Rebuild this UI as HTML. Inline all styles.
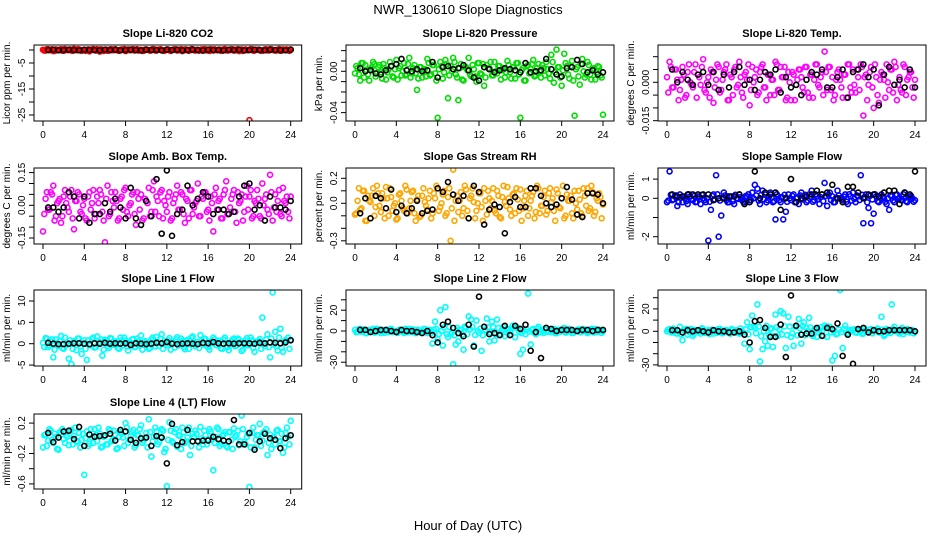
<!DOCTYPE html>
<html><head><meta charset="utf-8"><style>
html,body{margin:0;padding:0;background:#fff;}
svg{display:block;font-family:"Liberation Sans",Arial,sans-serif;}
</style></head><body>
<svg id="chart" width="936" height="540" viewBox="0 0 936 540" xmlns="http://www.w3.org/2000/svg">
<rect width="936" height="540" fill="#fff"/>
<text x="468" y="14" text-anchor="middle" font-size="13">NWR_130610  Slope Diagnostics</text>
<text x="468" y="530" text-anchor="middle" font-size="13">Hour of Day (UTC)</text>
</svg>
<script>
const hoursC=[0,0.25,0.5,0.75,1,1.25,1.5,1.75,2,2.25,2.5,2.75,3,3.25,3.5,3.75,4,4.25,4.5,4.75,5,5.25,5.5,5.75,
6,6.25,6.5,6.75,7,7.25,7.5,7.75,8,8.25,8.5,8.75,9,9.25,9.5,9.75,10,10.25,10.5,10.75,11,11.25,11.5,11.75,
12,12.25,12.5,12.75,13,13.25,13.5,13.75,14,14.25,14.5,14.75,15,15.25,15.5,15.75,16,16.25,16.5,16.75,17,17.25,17.5,17.75,
18,18.25,18.5,18.75,19,19.25,19.5,19.75,20,20.25,20.5,20.75,21,21.25,21.5,21.75,22,22.25,22.5,22.75,23,23.25,23.5,23.75,24];
const hoursC2=[0.125,0.375,0.625,0.875,1.125,1.375,1.625,1.875,2.125,2.375,2.625,2.875,3.125,3.375,3.625,3.875,4.125,4.375,4.625,4.875,5.125,5.375,5.625,5.875,
6.125,6.375,6.625,6.875,7.125,7.375,7.625,7.875,8.125,8.375,8.625,8.875,9.125,9.375,9.625,9.875,10.125,10.375,10.625,10.875,11.125,11.375,11.625,11.875,
12.125,12.375,12.625,12.875,13.125,13.375,13.625,13.875,14.125,14.375,14.625,14.875,15.125,15.375,15.625,15.875,16.125,16.375,16.625,16.875,17.125,17.375,17.625,17.875,
18.125,18.375,18.625,18.875,19.125,19.375,19.625,19.875,20.125,20.375,20.625,20.875,21.125,21.375,21.625,21.875,22.125,22.375,22.625,22.875,23.125,23.375,23.625,23.875];
const hoursK=[0.5,1,1.5,2,2.5,3,3.5,4,4.5,5,5.5,6,6.5,7,7.5,8,8.5,9,9.5,10,10.5,11,11.5,12,
12.5,13,13.5,14,14.5,15,15.5,16,16.5,17,17.5,18,18.5,19,19.5,20,20.5,21,21.5,22,22.5,23,23.5,24];
const xTicks=[0,4,8,12,16,20,24];

const co2C=[0.1,-0.2,0.3,0,-0.4,0.2,-0.1,0.3,-0.3,0.1,0,-0.2,0.4,-0.1,0.2,-0.3,0.1,0,-0.5,0.2,-0.1,0.3,-0.6,0.1,
0,-0.3,0.2,-0.1,0.3,-0.2,0.1,0,-0.4,0.2,-0.1,0.3,0,-0.2,0.1,-0.3,0.2,0,-0.1,0.3,-0.2,0.1,0,-0.3,
0.2,-0.1,0,0.3,-0.2,0.1,-0.4,0.2,0,-0.1,0.3,-0.2,0.1,0,-0.3,0.2,-0.1,0.3,-0.2,0,0.1,-0.3,0.2,-0.1,
0,0.3,-0.2,0.1,-0.4,0.2,0,-0.1,-27,0.3,-0.2,0.1,0,-0.3,0.2,-0.1,0.3,0,-0.2,0.1,-0.3,0.2,0,-0.1,0.2];
const co2C2=[-0.2,0.3,-0.1,0.25,-0.35,0.05,0.15,-0.25,0.35,-0.05,0.2,-0.3,0.1,0.3,-0.15,0,-0.3,0.2,-0.1,0.35,-0.2,0.05,0.25,-0.35,
0.15,-0.25,0.3,-0.05,0.1,-0.3,0.2,0.35,-0.15,0,0.25,-0.2,0.3,-0.1,-0.35,0.15,0.05,-0.25,0.35,-0.15,0.1,0.3,-0.3,0,
0.2,-0.35,0.05,0.25,-0.1,0.3,-0.2,0.15,-0.3,0.35,-0.05,0.1,-0.25,0.2,0.3,-0.15,-0.35,0.05,0.25,-0.1,0.15,-0.3,0.35,-0.2,
-0.05,0.25,-0.15,0.3,0.1,-0.35,0.2,-0.1,0.35,-0.25,0.05,0.15,-0.3,0,0.25,-0.2,0.3,-0.05,-0.15,0.35,-0.25,0.1,0.2,-0.3];
const co2K=[0,0.1,-0.1,0,0.1,0,-0.1,0.1,0,0,-0.1,0.1,0,0.1,-0.1,0,0.1,0,-0.1,0.1,0,0,-0.1,0.1,
0,0.1,-0.1,0,0.1,0,-0.1,0.1,0,0,-0.1,0.1,0,0.1,-0.1,0,0.1,0,-0.1,0.1,0,0,-0.1,0.1];

const presC=[-0.002,0.003,-0.009,0.008,0.006,-0.003,0.002,0.009,-0.005,0.004,-0.001,0.007,-0.008,0.002,0.005,-0.006,0.011,0.003,-0.004,0.008,-0.003,0.013,-0.002,0.006,
-0.018,0.004,-0.006,0.002,0.012,-0.004,0.006,-0.002,-0.045,0.009,-0.007,0.011,-0.026,0.005,0.013,-0.003,-0.028,0.007,-0.009,0.004,0.013,-0.005,0.002,-0.010,
0.008,-0.003,-0.014,0.006,0.003,-0.004,0.009,-0.002,0.005,0.001,-0.006,0.010,-0.001,0.004,-0.007,0.008,-0.045,0.003,-0.009,0.006,0.002,0.011,-0.004,0.007,
-0.006,0.003,0.009,-0.002,0.016,-0.011,0.021,0.004,-0.014,0.017,0.005,-0.007,0.010,-0.043,0.004,-0.013,0.012,-0.006,0.009,-0.003,0.002,-0.008,0.005,-0.004,-0.042];
const presC2=[5e-3,-3e-3,8e-3,-6e-3,1e-3,-9e-3,4e-3,7e-3,-2e-3,6e-3,-7e-3,3e-3,-1e-3,9e-3,-5e-3,2e-3,-8e-3,5e-3,0,-4e-3,7e-3,-6e-3,3e-3,-2e-3,
-7e-3,4e-3,1e-3,-5e-3,8e-3,-3e-3,6e-3,-9e-3,2e-3,5e-3,-1e-3,7e-3,-4e-3,0,9e-3,-6e-3,3e-3,-8e-3,4e-3,1e-3,-3e-3,6e-3,-5e-3,8e-3,
-2e-3,7e-3,-6e-3,3e-3,9e-3,-4e-3,0,5e-3,-8e-3,2e-3,-1e-3,6e-3,-7e-3,4e-3,8e-3,-3e-3,1e-3,-9e-3,5e-3,-2e-3,7e-3,-5e-3,3e-3,0,
6e-3,-4e-3,2e-3,-7e-3,9e-3,-1e-3,4e-3,-6e-3,1e-3,8e-3,-3e-3,5e-3,-9e-3,2e-3,-5e-3,7e-3,0,-3e-3,6e-3,-8e-3,3e-3,-1e-3,4e-3,-6e-3];
const presK=[0.003,0,0.001,-0.002,-0.003,0.001,0.005,0.007,0.012,0.001,0,0.002,0,0.001,0.009,-0.006,0.004,0.005,0.002,0.003,0.006,0.001,-0.006,-0.009,
0.004,0.002,-0.001,0.001,0.003,0.002,0.001,-0.001,0.008,-0.001,0,0.001,0.012,0.002,-0.003,-0.005,0.003,0.004,0.011,0.007,-0.001,0.001,-0.003,-0.001];

const tempC=[0.002,0.008,-0.002,0.005,0.001,-0.003,0.006,-0.006,0.004,0,-0.002,0.007,0.003,-0.001,0.009,-0.004,0.002,0.005,-0.008,0.001,0.006,-0.003,0.004,0.007,
-0.007,0.002,0.005,-0.002,0.008,-0.004,0.003,0.001,-0.009,0.006,0.002,-0.005,0.004,0.007,-0.002,0.003,-0.005,0.001,0.008,-0.003,0.006,0.002,-0.007,0.004,
-0.007,0.003,-0.001,0.005,0.002,-0.004,0.006,-0.006,0.003,0.001,0.007,-0.002,0.004,0.012,-0.003,0.006,0.002,-0.005,0.004,0.001,-0.006,0.003,0.007,-0.002,
0.005,-0.004,0.002,0.007,-0.013,0.003,-0.001,0.006,-0.010,0.002,-0.008,0.004,0.001,0.007,-0.003,0.005,0.008,-0.007,0.002,-0.004,0.006,0.001,0.004,-0.002,0.001];
const tempC2=[-4e-3,6e-3,-2e-3,5e-3,-7e-3,1e-3,3e-3,-5e-3,7e-3,-1e-3,4e-3,-6e-3,2e-3,6e-3,-3e-3,0,-6e-3,4e-3,-2e-3,7e-3,-4e-3,1e-3,5e-3,-7e-3,
3e-3,-5e-3,6e-3,-1e-3,2e-3,-6e-3,4e-3,7e-3,-3e-3,0,5e-3,-4e-3,6e-3,-2e-3,-7e-3,3e-3,1e-3,-5e-3,7e-3,-3e-3,2e-3,6e-3,-6e-3,0,
4e-3,-7e-3,1e-3,5e-3,-2e-3,6e-3,-4e-3,3e-3,-6e-3,7e-3,-1e-3,2e-3,-5e-3,4e-3,6e-3,-3e-3,-7e-3,1e-3,5e-3,-2e-3,3e-3,-6e-3,7e-3,-4e-3,
-1e-3,5e-3,-3e-3,6e-3,2e-3,-7e-3,4e-3,-2e-3,7e-3,-5e-3,1e-3,3e-3,-6e-3,0,5e-3,-4e-3,6e-3,-1e-3,-3e-3,7e-3,-5e-3,2e-3,4e-3,-6e-3];
const tempK=[0.005,0,0.004,0.001,-0.001,0.003,0.004,-0.001,0.004,-0.003,0.003,-0.002,0.004,0.006,-0.001,0.001,-0.003,0.001,0.004,0.003,0.005,-0.004,0.002,-0.002,
-0.001,-0.005,0.001,0.004,0.003,0.005,-0.002,-0.002,0.002,0.005,-0.006,0.004,0.005,0.007,0.002,0.005,-0.009,0.003,0.006,-0.001,0.001,-0.002,0.005,-0.002];

const ambC=[-0.12,0.03,-0.02,0.06,0.09,-0.05,0.02,-0.08,0.04,0.01,-0.03,0.07,-0.11,0.02,0.05,-0.04,0.03,-0.07,0.06,0.01,-0.06,0.04,0.07,-0.03,
-0.17,0.09,-0.04,0.02,0.06,-0.07,0.03,-0.02,0.08,-0.05,0.01,0.06,-0.09,0.03,0.05,-0.06,0.02,0.08,-0.03,0.11,0.04,-0.05,0.07,0.02,
-0.03,0.06,-0.06,0.03,0.09,-0.02,0.05,-0.08,0.02,0.07,-0.04,0.01,0.10,-0.05,0.03,0.06,-0.02,0.04,-0.12,0.08,0.02,-0.06,0.05,0.11,
-0.04,0.03,0.07,-0.08,0.01,0.05,-0.03,0.09,0.04,-0.06,0.02,0.07,-0.05,0.10,0.03,-0.02,0.14,-0.07,0.05,0.02,-0.04,0.08,0.01,-0.03,0.04];
const ambC2=[-4e-2,6e-2,-2e-2,5e-2,-7e-2,1e-2,3e-2,-5e-2,7e-2,-1e-2,4e-2,-6e-2,2e-2,6e-2,-3e-2,0,-6e-2,4e-2,-2e-2,7e-2,-4e-2,1e-2,5e-2,-7e-2,
3e-2,-5e-2,6e-2,-1e-2,2e-2,-6e-2,4e-2,7e-2,-3e-2,0,5e-2,-4e-2,6e-2,-2e-2,-7e-2,3e-2,1e-2,-5e-2,7e-2,-3e-2,2e-2,6e-2,-6e-2,0,
4e-2,-7e-2,1e-2,5e-2,-2e-2,6e-2,-4e-2,3e-2,-6e-2,7e-2,-1e-2,2e-2,-5e-2,4e-2,6e-2,-3e-2,-7e-2,1e-2,5e-2,-2e-2,3e-2,-6e-2,7e-2,-4e-2,
-1e-2,5e-2,-3e-2,6e-2,2e-2,-7e-2,4e-2,-2e-2,7e-2,-5e-2,1e-2,3e-2,-6e-2,0,5e-2,-4e-2,6e-2,-1e-2,-3e-2,7e-2,-5e-2,2e-2,4e-2,-6e-2];
const ambK=[-0.01,-0.01,-0.03,-0.01,0.06,0.04,-0.06,0.04,-0.08,-0.04,-0.04,0.01,-0.03,0.03,-0.01,-0.06,0.08,-0.06,-0.09,0.02,-0.05,0.12,-0.13,0.16,
-0.14,-0.04,-0.02,0.09,0,0.03,0.06,0.04,-0.04,-0.02,-0.02,-0.04,-0.03,0.04,0.09,0.10,-0.02,0.00,-0.07,0.04,-0.01,-0.01,-0.02,0.02];

const rhC=[-0.09,0.02,-0.05,0.10,-0.14,0.06,0.01,0.12,-0.03,0.08,-0.07,0.04,0.13,-0.10,0.05,-0.02,-0.13,0.07,0.02,-0.06,0.11,-0.04,0.09,-0.08,
0.03,-0.11,0.06,0.01,-0.05,0.10,-0.08,0.04,0.12,-0.03,0.07,-0.10,0.05,-0.30,0.27,0.02,-0.07,0.09,-0.04,0.11,-0.12,0.06,0.01,-0.06,
0.08,-0.03,0.12,-0.09,0.04,0.02,-0.06,0.10,-0.11,0.05,0.01,0.13,-0.05,0.07,-0.08,0.03,0.11,-0.04,0.06,-0.10,0.02,0.09,-0.07,0.12,
-0.02,0.05,-0.09,0.08,0.01,-0.06,0.11,-0.03,0.04,-0.12,0.07,0.02,-0.08,0.10,-0.05,0.03,-0.10,0.06,0.12,-0.04,0.09,-0.07,0.02,0.05,-0.01];
const rhC2=[-0.08,0.12,-0.04,0.10,-0.14,0.02,0.06,-0.10,0.14,-0.02,0.08,-0.12,0.04,0.12,-0.06,0,-0.12,0.08,-0.04,0.14,-0.08,0.02,0.10,-0.14,
0.06,-0.10,0.12,-0.02,0.04,-0.12,0.08,0.14,-0.06,0,0.10,-0.08,0.12,-0.04,-0.14,0.06,0.02,-0.10,0.14,-0.06,0.04,0.12,-0.12,0,
0.08,-0.14,0.02,0.10,-0.04,0.12,-0.08,0.06,-0.12,0.14,-0.02,0.04,-0.10,0.08,0.12,-0.06,-0.14,0.02,0.10,-0.04,0.06,-0.12,0.14,-0.08,
-0.02,0.10,-0.06,0.12,0.04,-0.14,0.08,-0.04,0.14,-0.10,0.02,0.06,-0.12,0,0.10,-0.08,0.12,-0.02,-0.06,0.14,-0.10,0.04,0.08,-0.12];
const rhK=[-0.08,0.04,-0.12,0.06,0.04,-0.04,0.11,-0.07,-0.02,-0.08,-0.04,0.02,-0.08,-0.06,-0.05,0.12,0.09,0.17,0.07,0.02,0.06,-0.12,0.14,0.09,
-0.17,-0.05,-0.01,-0.03,-0.24,0.01,0.05,-0.03,-0.03,0.12,0.12,0.06,0.00,-0.03,-0.01,0.04,0.13,0.03,-0.09,-0.11,0.08,0.08,0.07,0.00];

const flowC=[-0.2,1.4,-0.1,0.1,-0.4,0.2,-0.2,0,-0.3,0.1,-0.1,-0.2,0.1,-0.3,0,-0.2,-2.2,-0.6,0.2,1.2,-2.0,-0.9,0.3,-0.1,
-0.2,0.1,-0.3,0,0.2,-0.1,-0.2,0.1,-0.1,0.3,0.7,0.5,-0.3,0.4,0.2,-0.1,0.3,-0.2,-1.1,0.1,-0.2,-1.1,-0.7,0.2,
-0.1,0.2,0,-0.3,0.3,0.1,-0.2,0.2,0.4,-0.1,0.1,-0.3,0.2,0.8,-0.4,0.3,0.1,-0.2,0.4,0,-0.1,0.2,-0.3,0.1,
0.3,-0.2,0.1,1.2,-1.3,0.2,-0.5,-1.3,-0.8,0.1,-0.2,0.2,0,-0.3,-0.6,0.1,-0.2,0.2,0,-0.1,0.3,-0.2,0.1,0,-0.1];
const flowC2=[-0.12,0.18,-0.06,0.15,-0.21,0.03,0.09,-0.15,0.21,-0.03,0.12,-0.18,0.06,0.18,-0.09,0,-0.18,0.12,-0.06,0.21,-0.12,0.03,0.15,-0.21,
0.09,-0.15,0.18,-0.03,0.06,-0.18,0.12,0.21,-0.09,0,0.15,-0.12,0.18,-0.06,-0.21,0.09,0.03,-0.15,0.21,-0.09,0.06,0.18,-0.18,0,
0.12,-0.21,0.03,0.15,-0.06,0.18,-0.12,0.09,-0.18,0.21,-0.03,0.06,-0.15,0.12,0.18,-0.09,-0.21,0.03,0.15,-0.06,0.09,-0.18,0.21,-0.12,
-0.03,0.15,-0.09,0.18,0.06,-0.21,0.12,-0.06,0.21,-0.15,0.03,0.09,-0.18,0,0.15,-0.12,0.18,-0.03,-0.09,0.21,-0.15,0.06,0.12,-0.18];
const flowK=[0.2,0.1,0.1,0.2,0.2,0.2,0.2,0.2,-0.1,0,0,0.1,0.1,0.2,-0.3,-0.2,1.4,0,0.3,0.2,0.3,-0.6,0,1.0,
-0.2,0,0.1,0.2,0.4,0.2,0.3,0.7,0,-0.2,0.6,0.6,0.3,0,0.2,0.2,0.1,0.3,0.4,0.4,-0.3,0.3,0.2,1.4];

const l1C=[0.2,1.3,-0.8,0.5,-3.2,1.0,-0.5,1.8,-1.2,0.3,-3.5,-4.8,0.6,-1.5,1.2,-2.4,0.8,-3.8,-0.3,1.1,-0.9,1.7,0.4,-2.8,
0.9,-0.6,1.3,-0.2,0.5,-1.0,1.4,-0.4,0.8,-1.6,0.2,1.1,-0.7,0.6,1.9,-0.3,0.4,-1.2,1.0,0.1,1.6,-0.5,2.2,0.7,
-0.4,1.3,0.3,-0.9,1.5,-0.1,0.6,-1.3,0.9,0.2,1.7,-0.6,0.4,2.0,-0.2,1.1,-0.8,0.5,1.4,-0.3,0.7,-1.1,1.0,0.2,
-1.5,0.6,1.2,-0.4,0.9,-1.7,0.3,1.3,-0.2,0.8,-1.9,0.5,1.1,6.1,-0.6,2.2,-3.2,12.0,2.8,-1.6,3.5,-1.9,0.8,1.4,0.9];
const l1C2=[-0.8,1.2,-0.4,1.0,-1.4,0.2,0.6,-1.0,1.4,-0.2,0.8,-1.2,0.4,1.2,-0.6,0,-1.2,0.8,-0.4,1.4,-0.8,0.2,1.0,-1.4,
0.6,-1.0,1.2,-0.2,0.4,-1.2,0.8,1.4,-0.6,0,1.0,-0.8,1.2,-0.4,-1.4,0.6,0.2,-1.0,1.4,-0.6,0.4,1.2,-1.2,0,
0.8,-1.4,0.2,1.0,-0.4,1.2,-0.8,0.6,-1.2,1.4,-0.2,0.4,-1.0,0.8,1.2,-0.6,-1.4,0.2,1.0,-0.4,0.6,-1.2,1.4,-0.8,
-0.2,1.0,-0.6,1.2,0.4,-1.4,0.8,-0.4,1.4,-1.0,0.2,0.6,-1.2,0,1.0,-0.8,1.2,-0.2,-0.6,1.4,-1.0,0.4,0.8,-1.2];
const l1K=[0.2,0,-0.1,-0.1,0,0.1,0.1,0,-0.1,0.1,0,0.2,0,0.1,0,0.1,-0.3,0.1,0,-0.1,0,0.2,0.1,0.4,
0,-0.1,0,0.1,0,-0.1,0.2,0.1,0.4,0.1,0,0.1,0,0.1,0.1,0.1,0,0.2,0.1,0.3,0.2,0.1,0.3,0.8];

const l2C=[1,-1,2,0,-2,1,0,2,-1,1,-2,0,1,-1,2,0,-1,1,0,-2,1,2,-1,0,
1,-1,0,2,-2,1,-12,9,-8,20,-14,23,-6,-3,-32,-13,-10,1,-18,3,14,11,-14,10,
-2,-19,4,12,-10,9,-9,11,-3,2,-5,1,0,5,-6,3,-22,-18,-3,36,-13,2,-3,4,
1,-2,3,0,-1,2,-2,1,0,3,-1,2,-2,0,1,-1,2,0,-2,1,0,2,-1,1,0];
const l2C2=[-1.2,1.8,-0.6,1.5,-2.1,0.3,0.9,-1.5,2.1,-0.3,1.2,-1.8,0.6,1.8,-0.9,0,-1.8,1.2,-0.6,2.1,-1.2,0.3,1.5,-2.1,
0.9,-1.5,1.8,-0.3,0.6,-1.8,1.2,2.1,-2.9,0,3.5,-3.2,3.8,-1.6,-4.1,2.9,1.3,-3.5,4.1,-2.9,1.6,3.8,-3.8,0,
2.2,-4.1,1.3,3.5,-1.6,3.8,-3.2,2.9,-3.8,4.1,-1.3,1.6,-3.5,3.2,3.8,-0.9,-2.1,0.3,1.5,-0.6,0.9,-1.8,2.1,-1.2,
-0.3,1.5,-0.9,1.8,0.6,-2.1,1.2,-0.6,2.1,-1.5,0.3,0.9,-1.8,0,1.5,-1.2,1.8,-0.3,-0.9,2.1,-1.5,0.6,1.2,-1.8];
const l2K=[1,1,-1,0,1,1,0,-1,1,0,0,-1,-2,0,-4,-11,6,9,3,-2,-5,6,-15,33,
4,-3,-2,-4,5,-4,5,2,6,-19,-1,-26,3,2,0,1,1,1,0,1,1,0,1,1];

const l3C=[0,2,-1,1,-2,4,-8,1,-3,2,-4,1,0,-2,2,-1,1,0,-2,1,2,-1,0,1,
-1,2,0,1,-2,0,-11,8,-16,14,3,24,-27,-16,-9,-13,2,-14,15,-4,18,16,-15,13,
-5,-13,4,11,-11,8,3,12,-3,2,-5,1,0,5,-5,4,-26,-22,-2,37,-15,5,-3,1,
1,-1,2,0,-2,1,-1,2,0,1,-1,13,-4,2,0,24,4,1,-2,3,0,2,-1,1,0];
const l3C2=[1.5,-0.9,2.4,-1.8,0.3,-2.7,1.2,2.1,-0.6,1.8,-2.1,0.9,-0.3,2.7,-1.5,0.6,-2.4,1.5,0,-1.2,2.1,-1.8,0.9,-0.6,
-2.1,1.2,0.3,-1.5,2.4,-0.9,1.8,-2.7,3.6,4.5,-1.8,4.2,-4.4,0,4.8,-3.6,2.7,-4.2,3.6,1.8,-2.7,4.5,-3.5,4.2,
-1.8,4.2,-3.6,2.7,4.8,-3.6,0,3.5,-4.2,1.8,-0.9,3.6,-4.2,3.6,4.2,-0.9,0.3,-2.7,1.5,-0.6,2.1,-1.5,0.9,0,
1.8,-1.2,0.6,-2.1,2.7,-0.3,1.2,-1.8,0.3,2.4,-0.9,1.5,-2.7,0.6,-1.5,2.1,0,-0.9,1.8,-2.4,0.9,-0.3,1.2,-1.8];
const l3K=[1,1,-1,1,0,1,0,-1,1,0,0,-1,-1,0,-3,-10,9,10,3,-5,-5,6,-23,32,
5,-3,-2,-2,3,-4,3,2,7,-22,-3,-29,2,3,-1,1,0,0,1,1,1,1,1,0];

const l4C=[-0.12,0.05,-0.03,0.10,-0.06,0.02,-0.15,0.08,-0.01,0.04,-0.09,0.11,0.03,-0.05,0.07,-0.02,-0.48,0.09,-0.07,0.01,0.12,-0.04,0.06,-0.11,
0.03,-0.08,0.10,-0.02,0.05,-0.13,0.08,0.01,0.20,-0.06,0.03,0.11,-0.09,0.04,0.17,-0.03,0.07,0.25,-0.24,0.02,0.09,-0.05,0.12,-0.18,
-0.63,0.21,-0.04,0.08,-0.11,0.03,0.14,-0.06,0.01,-0.22,0.06,0.10,-0.03,0.15,-0.08,0.04,-0.01,0.09,-0.42,0.02,0.12,-0.07,0.05,-0.10,
0.08,-0.02,0.13,0.04,-0.09,0.30,-0.05,0.02,-0.64,0.07,-0.12,0.04,0.19,-0.03,0.08,-0.22,0.05,0.01,-0.08,0.11,-0.04,-0.19,0.07,0.02,0.23];
const l4C2=[0.04,-0.10,0.12,-0.02,0.06,-0.14,0.08,0.12,-0.06,0.02,0.10,-0.08,0.14,-0.04,-0.12,0.06,0,-0.10,0.12,-0.06,0.04,0.14,-0.12,0.02,
-0.08,0.12,-0.04,0.10,-0.14,0.02,0.06,-0.10,0.14,-0.02,0.08,-0.12,0.04,0.12,-0.06,0,-0.12,0.08,-0.04,0.14,-0.08,0.02,0.10,-0.14,
-0.02,0.10,-0.06,0.12,0.04,-0.14,0.08,-0.04,0.14,-0.10,0.02,0.06,-0.12,0,0.10,-0.08,0.12,-0.02,-0.06,0.14,-0.10,0.04,0.08,-0.12,
0.08,-0.14,0.02,0.10,-0.04,0.12,-0.08,0.06,-0.12,0.14,-0.02,0.04,-0.10,0.08,0.12,-0.06,-0.14,0.02,0.10,-0.04,0.06,-0.12,0.14,-0.08];
const l4K=[0.07,-0.05,0.01,0.09,0.10,-0.01,0.15,-0.10,0.05,0.02,0.03,0.04,0.06,-0.03,0.11,0.09,-0.02,-0.06,0,0.01,-0.10,0.03,0.01,-0.33,
0.19,-0.09,-0.05,0.11,-0.04,-0.04,-0.03,-0.03,0.02,-0.01,-0.03,-0.04,0.24,-0.08,-0.08,0.07,-0.15,-0.04,0.06,0.00,-0.02,-0.13,0.00,0.04];

const titles=["Slope Li-820 CO2","Slope Li-820 Pressure","Slope Li-820 Temp.","Slope Amb. Box Temp.","Slope Gas Stream RH","Slope Sample Flow","Slope Line 1 Flow","Slope Line 2 Flow","Slope Line 3 Flow","Slope Line 4 (LT) Flow"];
const yTitles=["Licor ppm per min.","kPa per min.","degrees C per min.","degrees C per min.","percent per min.","ml/min per min.","ml/min per min.","ml/min per min.","ml/min per min.","ml/min per min."];
const yTicks=[[0,-5,-10,-15,-20,-25],[0.02,0.01,0,-0.01,-0.02,-0.03,-0.04],[0.01,0.005,0,-0.005,-0.01,-0.015],[0.15,0.1,0.05,0,-0.05,-0.1,-0.15],[0.2,0.1,0,-0.1,-0.2,-0.3],[1,0,-1,-2],[10,5,0,-5],[30,20,10,0,-10,-20,-30],[30,20,10,0,-10,-20,-30],[0.2,0,-0.2,-0.4,-0.6]];
const yLabels=[["-5","-15","-25"],["0.00","-0.04"],["0.000","-0.015"],["0.15","0.00","-0.15"],["0.2","0.0","-0.3"],["1","0","-2"],["10","5","0","-5"],["20","0","-30"],["20","0","-30"],["0.2","-0.2","-0.6"]];
const colC=[co2C,presC,tempC,ambC,rhC,flowC,l1C,l2C,l3C,l4C];
const colC2=[co2C2,presC2,tempC2,ambC2,rhC2,flowC2,l1C2,l2C2,l3C2,l4C2];
const colK=[co2K,presK,tempK,ambK,rhK,flowK,l1K,l2K,l3K,l4K];

// layout (not data)
const colX0=[43,355,667], colX24=[290.7,603,915];
const rowTop=[45,168,290,414], rowBot=[121,244,366,489];
const zeroY=[50,71.3,82.3,205.3,203.3,198.3,343.7,331,331.3,438.3];
const pxPerUnit=[2.6,1033,2560,218,125,19.2,4.27,1.04,1.12,76];
const colors=["#ff0000","#00dd00","#ff00ff","#ff00ff","#ffa500","#0000ff","#00ffff","#00ffff","#00ffff","#00ffff"];
const names=["co2","pressure","temp","amb-box-temp","rh","sample-flow","line1-flow","line2-flow","line3-flow","line4-flow"];

const NS="http://www.w3.org/2000/svg";
const svg=document.getElementById('chart');
function mk(tag,attrs,parent){const e=document.createElementNS(NS,tag);for(const k in attrs)e.setAttribute(k,attrs[k]);(parent||svg).appendChild(e);return e;}

for(let p=0;p<10;p++){
  const col=p%3,row=Math.floor(p/3);
  const x0=colX0[col],x24=colX24[col];
  const xs=h=>x0+(x24-x0)*h/24;
  const ys=v=>zeroY[p]-v*pxPerUnit[p];
  const left=x0-9,right=x24+11,top=rowTop[row],bot=rowBot[row];
  const g=mk('g',{});
  
  
  const clip=mk('clipPath',{id:'c'+p},g);
  mk('rect',{x:left,y:top,width:right-left,height:bot-top},clip);
  const t=mk('text',{x:(left+right)/2,y:top-8,'text-anchor':'middle','font-size':'11','font-weight':'bold'},g);
  t.textContent=titles[p];
  
  
  const yt=mk('text',{transform:`translate(${left-24},${(top+bot)/2}) rotate(-90)`,'text-anchor':'middle','font-size':'10'},g);
  yt.textContent=yTitles[p];
  
  
  yTicks[p].forEach(v=>{const y=ys(v);mk('line',{x1:left-5,x2:left,y1:y,y2:y,stroke:'#000','stroke-width':1},g);});
  yLabels[p].forEach(s=>{const y=ys(parseFloat(s));
    const lt=mk('text',{transform:`translate(${left-9},${y}) rotate(-90)`,'text-anchor':'middle','font-size':'10'},g);
    lt.textContent=s;
    
    
  });
  xTicks.forEach(h=>{const x=xs(h);mk('line',{x1:x,x2:x,y1:bot,y2:bot+5,stroke:'#000','stroke-width':1},g);
    const xt=mk('text',{x:x,y:bot+17,'text-anchor':'middle','font-size':'10'},g);
    xt.textContent=String(h);
    
    
  });
  const pg=mk('g',{'clip-path':`url(#c${p})`,fill:'none','stroke-width':1.6},g);
  colC2[p].forEach((v,i)=>{
    const c=mk('circle',{cx:xs(hoursC2[i]),cy:ys(v),r:2.5,stroke:colors[p]},pg);
    
    
  });
  colC[p].forEach((v,i)=>{
    const c=mk('circle',{cx:xs(hoursC[i]),cy:ys(v),r:2.5,stroke:colors[p]},pg);
    
    
  });
  colK[p].forEach((v,i)=>{
    const c=mk('circle',{cx:xs(hoursK[i]),cy:ys(v),r:2.5,stroke:'#000'},pg);
    
    
  });
  const box=mk('rect',{x:left,y:top,width:right-left,height:bot-top,fill:'none',stroke:'#000','stroke-width':1},g);
  
  
}
</script>
</body></html>
